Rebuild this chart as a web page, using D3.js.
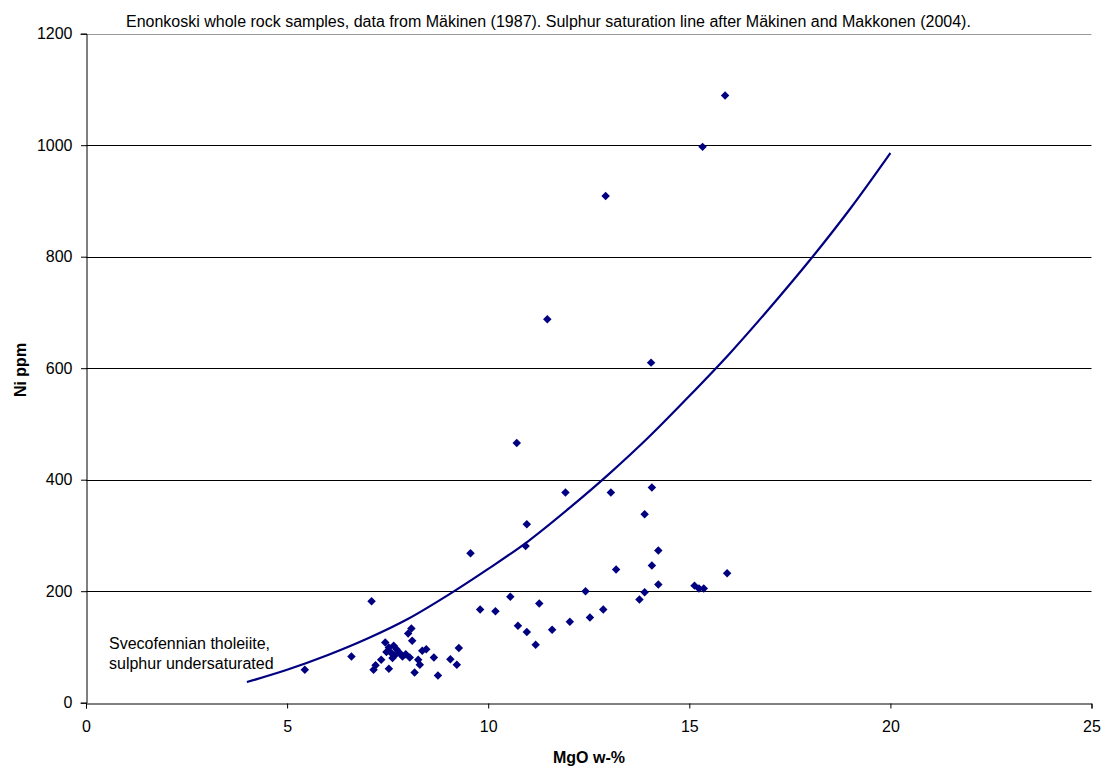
<!DOCTYPE html>
<html><head><meta charset="utf-8">
<script src="https://cdn.jsdelivr.net/npm/d3@7"></script>
<style>
html,body{margin:0;padding:0;background:#fff;}
text{font-family:"Liberation Sans",Arial,sans-serif;}
</style></head>
<body>
<svg id="chart" width="1103" height="767"></svg>
<script>
// Scatter data: MgO (w-%) vs Ni (ppm)
const mgo = [5.44,6.60,7.10,7.15,7.20,7.34,7.44,7.47,7.53,7.53,7.59,7.62,7.65,7.72,7.80,7.87,7.68,7.95,
  8.01,8.09,8.11,8.05,8.17,8.26,8.30,8.36,8.46,8.65,8.75,9.06,9.22,9.27,9.56,9.80,10.18,10.55,10.71,10.74,
  10.93,10.96,10.96,11.18,11.27,11.47,11.59,11.92,12.03,12.42,12.53,12.86,12.92,13.05,13.18,13.76,13.89,13.89,
  14.05,14.07,14.07,14.23,14.23,15.13,15.24,15.36,15.33,15.89,15.94];
const ni = [59,83,182,59,67,77,108,91,99,61,89,80,102,96,89,83,85,87,
  124,133,111,81,54,77,68,93,96,81,49,78,68,98,268,167,164,190,466,138,
  281,320,127,104,178,688,131,377,145,200,153,167,909,377,239,185,198,338,
  610,386,246,273,212,210,205,205,997,1089,232];
// Sulphur saturation line
const lineMgo = [4,5,6,7,8,9,10,11,12,13,14,15,16,17,18,19,20];
const lineNi = [37,59,85,115,150,193,240,290,348,410,477,550,626,708,794,886,986];
const xTicks = [0,5,10,15,20,25];
const yTicks = [0,200,400,600,800,1000,1200];
const titleText = "Enonkoski whole rock samples, data from Mäkinen (1987). Sulphur saturation line after Mäkinen and Makkonen (2004).";
const noteLines = ["Svecofennian tholeiite,", "sulphur undersaturated"];

const svg = d3.select("#chart");
const x = d3.scaleLinear().domain([0,25]).range([86,1091.5]);
const y = d3.scaleLinear().domain([0,1200]).range([702.7,33.7]);

// gridlines
svg.append("g").selectAll("line").data(yTicks.filter(d=>d>0)).join("line")
  .attr("x1",x(0)).attr("x2",x(25))
  .attr("y1",d=>Math.round(y(d))+0.5).attr("y2",d=>Math.round(y(d))+0.5)
  .attr("stroke",d=>d===1200?"#9a9a9a":"#000").attr("stroke-width",1);

// y axis
const yAxis = svg.append("g").attr("transform","translate("+(Math.round(x(0))+0.5)+",0)")
  .call(d3.axisLeft(y).tickValues(yTicks).tickSize(6).tickPadding(8).tickFormat(d3.format("d")));
// x axis
const xAxis = svg.append("g").attr("transform","translate(0,"+(Math.round(y(0))+0.5)+")")
  .call(d3.axisBottom(x).tickValues(xTicks).tickSize(5).tickPadding(12).tickFormat(d3.format("d")));
[yAxis,xAxis].forEach(a=>{
  a.select(".domain").attr("stroke","#000");
  a.selectAll(".tick line").attr("stroke","#000");
  a.selectAll(".tick text").attr("font-size","16px").attr("fill","#000")
   .attr("font-family","\"Liberation Sans\",Arial,sans-serif");
});
yAxis.selectAll(".tick line").attr("transform","translate(0.5,0)");

// saturation line
svg.append("path")
  .datum(lineMgo.map((m,i)=>[m,lineNi[i]]))
  .attr("fill","none").attr("stroke","#000080").attr("stroke-width",2.2)
  .attr("d",d3.line().x(d=>x(d[0])).y(d=>y(d[1])).curve(d3.curveMonotoneX));

// markers
const sym = d3.symbol().type(d3.symbolSquare).size(36);
svg.append("g").selectAll("path").data(mgo.map((m,i)=>[m,ni[i]])).join("path")
  .attr("d",sym)
  .attr("transform",d=>"translate("+x(d[0])+","+y(d[1])+") rotate(45)")
  .attr("fill","#000080");

// title
svg.append("text").attr("x",126).attr("y",27).attr("font-size","16px").attr("fill","#000").text(titleText);
// axis titles
svg.append("text").attr("x",589).attr("y",763).attr("text-anchor","middle")
  .attr("font-size","16px").attr("font-weight","bold").text("MgO w-%");
svg.append("text").attr("transform","translate(26,370) rotate(-90)").attr("text-anchor","middle")
  .attr("font-size","16px").attr("font-weight","bold").text("Ni ppm");
// annotation
svg.append("g").selectAll("text").data(noteLines).join("text")
  .attr("x",109).attr("y",(d,i)=>649+i*20).attr("font-size","16px").text(d=>d);
</script>
</body></html>
